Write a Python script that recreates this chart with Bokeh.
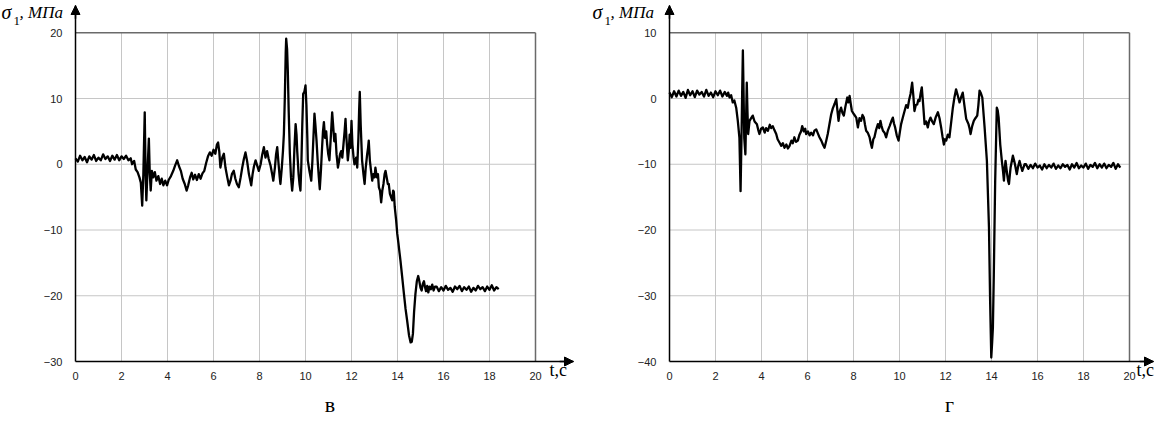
from bokeh.plotting import figure
from bokeh.layouts import row
from bokeh.models import Range1d, FixedTicker, Label, Arrow, NormalHead
from bokeh.embed import file_html
from bokeh.resources import INLINE

# ---------------- data ----------------
x_ticks = [0, 2, 4, 6, 8, 10, 12, 14, 16, 18, 20]
y_ticks_v = [-30, -20, -10, 0, 10, 20]
y_ticks_g = [-40, -30, -20, -10, 0, 10]

# panel "в"
t_v = [0.0, 0.1, 0.2, 0.3, 0.4, 0.5, 0.6, 0.7, 0.8, 0.9, 1.0, 1.1, 1.2, 1.3, 1.4, 1.5,
       1.6, 1.7, 1.8, 1.9, 2.0, 2.1, 2.2, 2.3,
       2.4, 2.46, 2.55, 2.62, 2.7, 2.78, 2.84, 2.9, 2.95, 3.01, 3.05, 3.08, 3.13, 3.19,
       3.23, 3.27, 3.32, 3.38, 3.45, 3.52, 3.6, 3.68, 3.75, 3.82, 3.9, 3.98, 4.05, 4.15,
       4.25, 4.33, 4.42, 4.5, 4.58, 4.66, 4.75, 4.83, 4.9, 4.98, 5.05, 5.12, 5.2, 5.28,
       5.36, 5.44, 5.52, 5.6, 5.68, 5.76, 5.84, 5.92, 6.0, 6.08, 6.15, 6.2, 6.25, 6.3,
       6.38, 6.45, 6.52, 6.6, 6.67, 6.74, 6.8, 6.88, 6.95, 7.02, 7.1, 7.18, 7.25, 7.32,
       7.39, 7.46, 7.54, 7.6, 7.64, 7.7, 7.76, 7.83, 7.9, 7.97, 8.05, 8.12, 8.19, 8.26,
       8.33, 8.4, 8.48, 8.55, 8.6, 8.67, 8.72, 8.77, 8.83, 8.88, 8.91, 8.97, 9.02, 9.06,
       9.1, 9.14, 9.16, 9.2, 9.23, 9.27, 9.32, 9.37, 9.42, 9.47, 9.52, 9.57, 9.61, 9.64,
       9.7, 9.74, 9.78, 9.82, 9.86, 9.9, 9.95, 10.0, 10.04, 10.08, 10.1, 10.17, 10.25,
       10.3, 10.35, 10.39, 10.43, 10.48, 10.53, 10.58, 10.62, 10.67, 10.72, 10.76, 10.8,
       10.85, 10.9, 10.94, 10.99, 11.04, 11.09, 11.13, 11.16, 11.2, 11.25, 11.3, 11.35,
       11.41, 11.46, 11.5, 11.55, 11.6, 11.65, 11.7, 11.74, 11.78, 11.84, 11.88, 11.92,
       11.96, 12.0, 12.04, 12.09, 12.13, 12.2, 12.25, 12.3, 12.33, 12.36, 12.4, 12.46,
       12.52, 12.57, 12.62, 12.68, 12.72, 12.75, 12.8, 12.85, 12.9, 12.95, 13.0, 13.04,
       13.1, 13.15, 13.19, 13.24, 13.29, 13.34, 13.39, 13.44, 13.48, 13.53, 13.58, 13.62,
       13.67, 13.72, 13.77, 13.81, 13.84, 13.88, 13.94, 13.99, 14.04, 14.09, 14.13, 14.2,
       14.28, 14.35, 14.42, 14.5, 14.57, 14.62, 14.67, 14.72, 14.78, 14.84, 14.9, 14.95,
       15.0, 15.05, 15.1, 15.15, 15.19, 15.24, 15.29, 15.34, 15.39, 15.45, 15.51, 15.57,
       15.63,
       15.7, 15.8, 15.9, 16.0, 16.1, 16.2, 16.3, 16.4, 16.5, 16.6, 16.7, 16.8, 16.9, 17.0,
       17.1, 17.2, 17.3, 17.4, 17.5, 17.6, 17.7, 17.8, 17.9, 18.0, 18.1, 18.2, 18.3, 18.4]
s_v = [0.9, 0.4, 1.3, 0.6, 1.1, 0.3, 1.2, 0.7, 1.4, 0.5, 1.0, 0.6, 1.5, 0.8, 1.2, 0.5,
       1.3, 0.7, 1.4, 0.6, 1.2, 0.8, 1.3, 0.6,
       0.9, 0.0, 0.5, -0.8, -1.2, -2.0, -2.8, -6.3, -1.5, 7.9, -2.0, -5.5, -1.0, 3.9,
       -1.5, -4.0, -1.0, -2.0, -1.2, -2.5, -1.8, -3.0, -2.2, -3.2, -2.5, -3.2, -2.4, -1.8,
       -1.0, -0.2, 0.6, -0.3, -1.0, -2.2, -3.0, -4.0, -3.2, -2.0, -1.3, -2.3, -1.6, -2.4,
       -1.5, -2.2, -1.4, -1.0, 0.2, 1.2, 1.8, 1.3, 2.2, 1.6, 3.0, 3.3, 2.0, -0.5,
       1.0, 1.6, -0.5, -2.0, -3.2, -2.5, -1.5, -1.0, -2.2, -3.0, -3.5, -2.0, -0.5, 0.8,
       1.8, 0.5, -1.5, -2.5, -3.2, -1.5, -0.3, 0.6, -0.2, -1.0, 0.0, 1.5, 2.6, 1.0,
       2.0, 0.8, -0.2, -1.5, -2.5, -0.5, 1.5, 2.6, 0.0, -2.0, -3.0, -0.5, 2.0, 4.6,
       10.0, 17.0, 19.1, 17.5, 14.3, 8.0, 1.6, -2.0, -4.0, -2.0, 2.5, 6.1, 4.5, 2.0,
       -1.5, -3.0, -4.0, 0.0, 6.0, 10.7, 11.0, 12.0, 9.0, 4.0, 0.6, -1.0, -2.5,
       0.5, 4.5, 7.7, 6.0, 3.6, 0.5, -2.0, -3.8, -1.0, 2.5, 5.0, 6.4,
       4.0, 5.0, 3.1, 1.5, 0.6, 3.5, 6.0, 7.9, 6.0, 3.5, 4.6, 1.5,
       -0.5, 0.5, 1.5, 2.0, 1.0, 3.0, 5.0, 6.9, 4.0, 0.6, 2.0, 4.5,
       2.5, 6.6, 3.0, 1.0, 0.0, 1.0, -0.5, 4.0, 8.0, 11.0, 6.0, 0.6,
       -1.5, -3.0, -0.5, 1.5, 2.5, 3.6, 0.5, -1.0, -2.5, -1.5, -2.0, -0.5,
       -2.0, -1.5, -3.5, -4.0, -5.8, -4.0, -3.0, -1.5, -1.0, -2.0, -3.0, -3.0,
       -4.5, -5.0, -5.5, -4.0, -4.2, -6.5, -8.5, -10.6, -12.0, -13.5, -14.7, -17.0,
       -19.7, -22.0, -23.8, -26.0, -27.1, -27.0, -25.8, -22.5, -19.7, -17.8, -17.0, -17.8,
       -18.8, -19.2, -18.2, -17.8, -18.6, -19.3, -18.5, -19.5, -18.6, -19.0, -18.3, -19.2,
       -18.6,
       -18.6, -19.3, -18.7, -19.2, -18.5, -19.1, -18.8, -19.4, -18.6, -19.0, -18.5, -19.3,
       -18.7, -19.1, -18.6, -19.4, -18.8, -19.2, -18.5, -19.0, -18.7, -19.3, -18.6, -19.1,
       -18.4, -19.2, -18.7, -19.0]

# panel "г"
t_g = [0.0, 0.1, 0.2, 0.3, 0.4, 0.5, 0.6, 0.7, 0.8, 0.9, 1.0, 1.1, 1.2, 1.3, 1.4, 1.5,
       1.6, 1.7, 1.8, 1.9, 2.0, 2.1, 2.2, 2.3, 2.4, 2.5, 2.55,
       2.61, 2.68, 2.75, 2.82, 2.9, 2.97, 3.04, 3.09, 3.13, 3.16, 3.19, 3.22, 3.25, 3.3,
       3.33, 3.36, 3.39, 3.42, 3.48, 3.55, 3.62, 3.7, 3.8, 3.86, 3.91, 3.98, 4.06, 4.14,
       4.2, 4.28, 4.36, 4.42, 4.49, 4.56, 4.64, 4.7, 4.78, 4.86, 4.93, 5.0, 5.08, 5.15,
       5.22, 5.3, 5.36, 5.43, 5.5, 5.58, 5.65, 5.72, 5.77, 5.84, 5.9, 5.94, 6.02, 6.09,
       6.16, 6.24, 6.3, 6.38, 6.45, 6.52, 6.6, 6.67, 6.74, 6.81, 6.88, 6.95, 7.03, 7.1,
       7.18, 7.25, 7.3, 7.35, 7.4, 7.46, 7.52, 7.58, 7.65, 7.73, 7.78, 7.83, 7.88, 7.93,
       8.02, 8.12, 8.19, 8.26, 8.33, 8.39, 8.45, 8.5, 8.55, 8.62, 8.7, 8.75, 8.8, 8.86,
       8.91, 8.98, 9.06, 9.12, 9.17, 9.22, 9.28, 9.35, 9.42, 9.5, 9.57, 9.64, 9.71, 9.76,
       9.81, 9.88, 9.96, 10.02, 10.07, 10.15, 10.22, 10.29, 10.36, 10.42, 10.48, 10.55,
       10.6, 10.65, 10.71, 10.77, 10.82, 10.87, 10.92, 10.97, 11.03, 11.09, 11.16, 11.23,
       11.29, 11.35, 11.42, 11.49, 11.58, 11.67, 11.74, 11.81, 11.87, 11.93, 11.98, 12.03,
       12.1, 12.17, 12.25, 12.32, 12.39, 12.46, 12.53, 12.61, 12.68, 12.75, 12.82, 12.9,
       12.95, 13.0, 13.05, 13.09, 13.16, 13.23, 13.3, 13.38, 13.43, 13.48, 13.54, 13.6,
       13.7, 13.8, 13.89, 13.94, 13.99, 14.03, 14.06, 14.1, 14.16, 14.23, 14.27, 14.31,
       14.38, 14.45, 14.5, 14.54, 14.58, 14.61, 14.68, 14.72, 14.76, 14.8, 14.83, 14.93,
       14.98, 15.02, 15.1, 15.16, 15.22, 15.28, 15.34, 15.4, 15.44,
       15.5, 15.6, 15.7, 15.8, 15.9, 16.0, 16.1, 16.2, 16.3, 16.4, 16.5, 16.6, 16.7, 16.8,
       16.9, 17.0, 17.1, 17.2, 17.3, 17.4, 17.5, 17.6, 17.7, 17.8, 17.9, 18.0, 18.1, 18.2,
       18.3, 18.4, 18.5, 18.6, 18.7, 18.8, 18.9, 19.0, 19.1, 19.2, 19.3, 19.4, 19.5, 19.6]
s_g = [0.9, 0.2, 1.1, 0.3, 1.2, 0.4, 1.0, 0.1, 1.3, 0.5, 1.1, 0.2, 1.2, 0.6, 1.0, 0.3,
       1.3, 0.4, 0.9, 0.2, 1.1, 0.5, 1.2, 0.3, 1.0, 0.4, 0.9,
       0.15, 0.5, -0.6, -0.3, -1.4, -3.4, -6.0, -14.1, -6.0, 1.0, 7.3, 1.0, -6.0, -8.5,
       -3.0, 2.4, -2.0, -5.4, -3.4, -3.0, -2.6, -3.5, -3.9, -4.8, -5.4, -4.6, -4.4, -5.2,
       -4.5, -4.9, -4.0, -4.5, -4.2, -4.8, -5.4, -6.2, -6.7, -7.2, -6.8, -7.5, -7.0, -7.6,
       -7.2, -6.4, -6.8, -5.9, -6.6, -6.4, -5.5, -5.0, -4.2, -5.0, -4.6, -5.4, -5.0, -5.6,
       -5.2, -5.6, -4.9, -4.7, -5.3, -5.9, -6.4, -7.0, -7.5, -6.5, -5.4, -4.0, -2.4, -1.5,
       -0.8, -0.1, -1.8, -3.4, -2.0, -1.4, -2.2, -2.6, -1.2, 0.15, -0.6, 0.4, -0.8, -1.9,
       -2.4, -2.9, -4.4, -3.0, -3.4, -2.5, -2.9, -4.0, -4.9, -5.2, -5.9, -6.8, -7.5, -6.2,
       -5.9, -4.8, -3.9, -4.5, -3.4, -4.2, -4.9, -5.2, -5.9, -4.8, -4.2, -3.5, -2.9, -3.8,
       -4.4, -5.6, -6.4, -5.0, -3.9, -2.8, -1.9, -1.0, -1.4, -0.2, 0.7, 2.4,
       0.5, -1.9, -1.0, -0.9, -0.2, -0.4, 0.8, 1.7, -1.0, -3.9, -3.5, -4.4,
       -3.4, -2.9, -3.5, -3.9, -2.8, -2.1, -3.0, -4.4, -5.8, -7.0, -6.2, -6.4,
       -5.5, -5.9, -3.5, -1.4, 0.2, 1.4, 0.5, -0.6, 0.2, 0.9, -1.0, -3.1,
       -3.5, -3.9, -4.6, -5.4, -4.2, -3.4, -3.0, -2.6, -1.0, 1.2, 0.8, 0.15,
       -4.4, -9.5, -19.6, -30.8, -39.4, -37.0, -34.9, -26.8, -12.5, -1.4, -1.8, -2.9,
       -7.0, -9.5, -11.0, -12.5, -10.5, -9.5, -11.5, -12.5, -13.0, -11.5, -10.5, -8.7,
       -9.4, -10.0, -11.5, -10.3, -9.5, -10.3, -11.0, -10.4, -10.0,
       -10.0, -10.7, -10.1, -10.6, -9.9, -10.5, -10.2, -10.8, -10.0, -10.6, -10.1, -10.5,
       -9.9, -10.7, -10.2, -10.6, -10.0, -10.4, -10.1, -10.8, -10.0, -10.5, -9.8, -10.6,
       -10.2, -10.5, -9.9, -10.7, -10.1, -10.4, -9.8, -10.6, -10.0, -10.5, -9.9, -10.6,
       -10.1, -10.4, -9.8, -10.7, -10.0, -10.5]

Y_LABEL = ("σ", "1", ", МПа")
X_LABEL = "t,с"

# ---------------- layout constants (pixels) ----------------
PX_X = 23.0      # pixels per second
PX_Y = 6.575     # pixels per MPa
FIG_H = 418
FRAME_TOP_PAGE = 8          # figure top on the page
AXIS_Y_PAGE = 369           # page y of the bottom axis line
ARROW_TOP_PAGE = 13         # page y of the tip of the vertical arrow


def make_panel(t, s, y_ticks, fig_left_page, fig_w, axis_x_page, arrow_x_page,
               caption, cap_x_page, xlab_x_page, ylab_x_page):
    ymin, ymax = y_ticks[0], y_ticks[-1]
    xmax = x_ticks[-1]
    off = axis_x_page - fig_left_page                 # px from figure left to t=0

    def X(px_page):
        return (px_page - axis_x_page) / PX_X

    def Y(py_page):
        return ymin + (AXIS_Y_PAGE - py_page) / PX_Y

    x0 = -off / PX_X
    x1 = x0 + fig_w / PX_X
    y0 = Y(FRAME_TOP_PAGE + FIG_H)
    y1 = Y(FRAME_TOP_PAGE)
    x_arrow = X(arrow_x_page)
    y_arrow = Y(ARROW_TOP_PAGE)

    p = figure(width=fig_w, height=FIG_H, output_backend="svg", toolbar_location=None,
               x_range=Range1d(x0, x1), y_range=Range1d(y0, y1),
               min_border=0, min_border_left=0, min_border_right=0,
               min_border_top=0, min_border_bottom=0)
    p.outline_line_color = None
    p.background_fill_color = "white"
    p.border_fill_color = "white"
    p.xgrid.visible = False
    p.ygrid.visible = False

    # grid lines inside the box
    gx = x_ticks[1:-1]
    p.segment(x0=gx, y0=[ymin] * len(gx), x1=gx, y1=[ymax] * len(gx),
              line_color="#c6c6c6", line_width=1)
    gy = y_ticks[1:-1]
    p.segment(x0=[0] * len(gy), y0=gy, x1=[xmax] * len(gy), y1=gy,
              line_color="#c6c6c6", line_width=1)
    # top and right edges of the box
    p.segment(x0=[0, xmax], y0=[ymax, ymin], x1=[xmax, xmax], y1=[ymax, ymax],
              line_color="#6a6a6a", line_width=1.5)

    # signal
    p.line(t, s, line_color="black", line_width=2.3, line_join="round")

    # axes drawn through the origin of the box
    xa, ya = p.xaxis[0], p.yaxis[0]
    xa.fixed_location = ymin
    ya.fixed_location = 0
    xa.bounds = (0, x_arrow)
    ya.bounds = (ymin, y_arrow)
    for ax in (xa, ya):
        ax.axis_line_color = "black"
        ax.axis_line_width = 1.5
        ax.major_tick_line_color = None
        ax.minor_tick_line_color = None
        ax.major_label_text_font = "Liberation Sans"
        ax.major_label_text_font_size = "11px"
        ax.major_label_text_color = "#222222"
    xa.ticker = FixedTicker(ticks=x_ticks)
    ya.ticker = FixedTicker(ticks=y_ticks)
    xa.major_label_standoff = 4
    ya.major_label_standoff = 7

    # arrow heads on axes
    head = dict(size=9, fill_color="black", line_color="black")
    p.add_layout(Arrow(end=NormalHead(**head), x_start=x_arrow - 0.6, y_start=ymin,
                       x_end=x_arrow, y_end=ymin, line_color="black", line_width=1.5))
    p.add_layout(Arrow(end=NormalHead(**head), x_start=0, y_start=y_arrow - 2.0,
                       x_end=0, y_end=y_arrow, line_color="black", line_width=1.5))

    # y label  σ1, МПа
    lx = ylab_x_page
    p.add_layout(Label(x=X(lx), y=Y(30), text=Y_LABEL[0], text_font="Liberation Serif",
                       text_font_style="italic", text_font_size="20px", text_color="black"))
    p.add_layout(Label(x=X(lx + 12), y=Y(32), text=Y_LABEL[1], text_font="Liberation Serif",
                       text_font_size="13px", text_color="black"))
    p.add_layout(Label(x=X(lx + 18), y=Y(29), text=Y_LABEL[2], text_font="Liberation Serif",
                       text_font_style="italic", text_font_size="17px", text_color="black"))
    # x label  t,с
    p.add_layout(Label(x=X(xlab_x_page), y=Y(387), text=X_LABEL,
                       text_font="Liberation Serif", text_font_size="18px", text_color="black"))
    # caption
    p.add_layout(Label(x=X(cap_x_page), y=Y(424), text=caption, text_align="center",
                       text_baseline="bottom", text_font="Liberation Serif",
                       text_font_size="22px", text_color="black"))
    return p


left = make_panel(t_v, s_v, y_ticks_v, 8, 587, 83, 581, "в", 337.5, 557, 9)
right = make_panel(t_g, s_g, y_ticks_g, 595, 568, 677, 1161, "г", 957, 1144, 600)

layout = row(left, right, spacing=0)
open("out.html", "w").write(file_html(layout, INLINE))
